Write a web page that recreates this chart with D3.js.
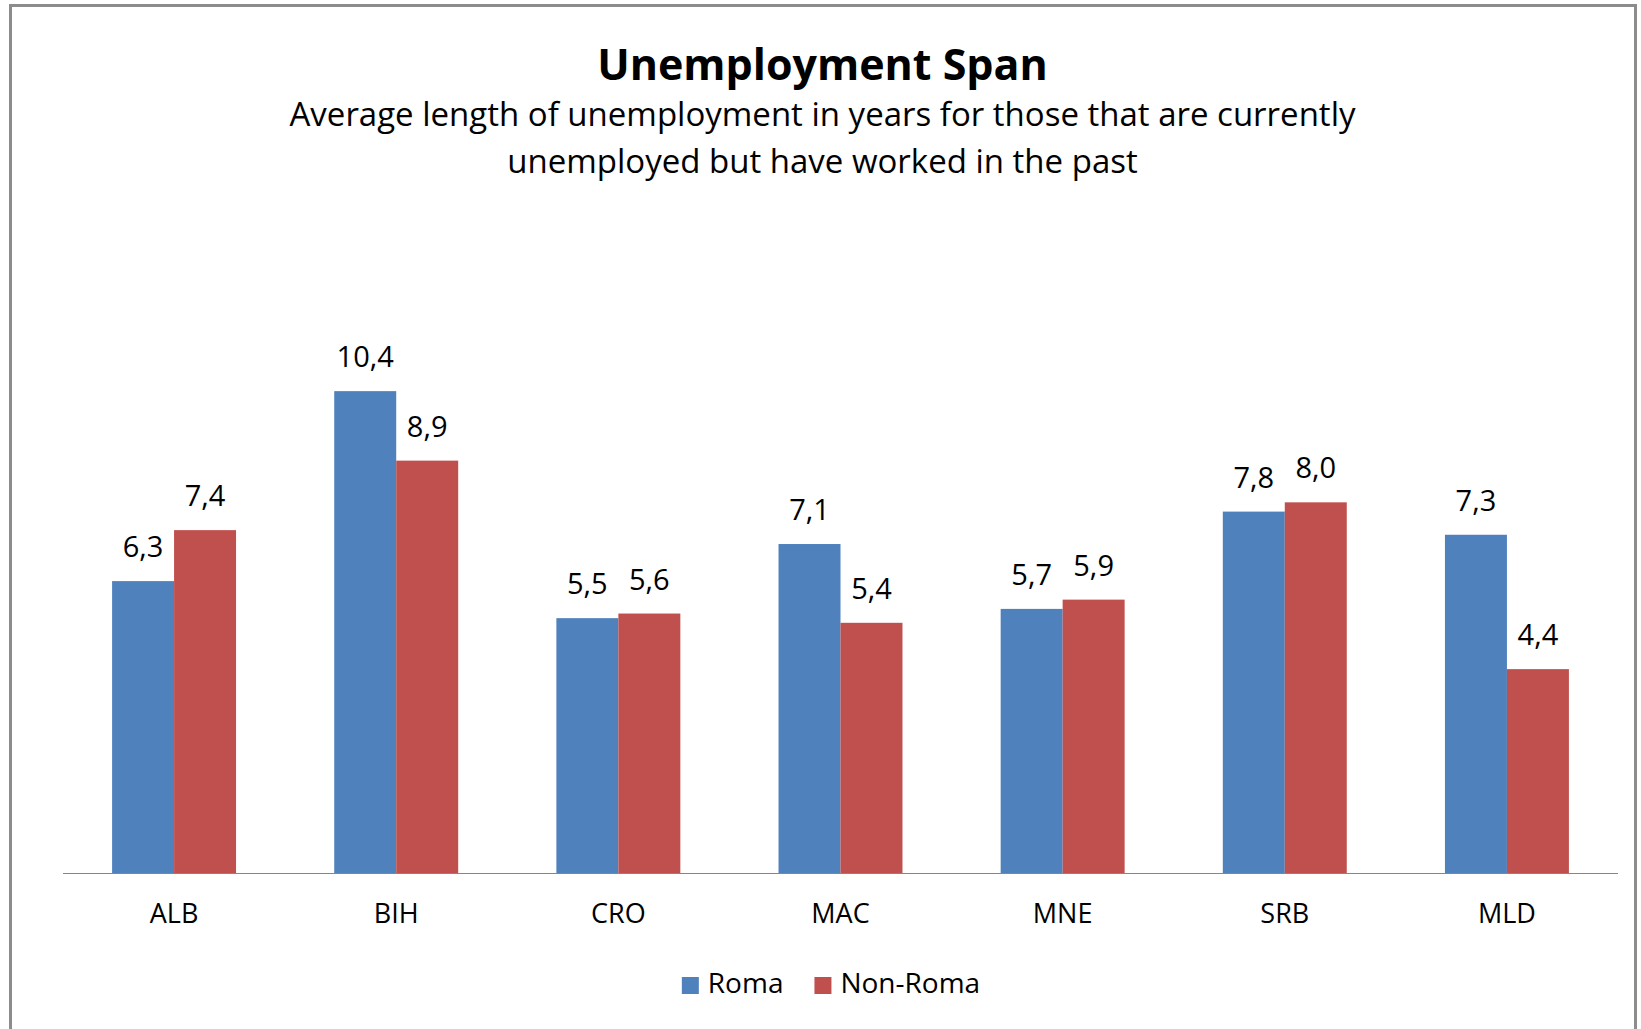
<!DOCTYPE html>
<html lang="en">

<head>
    <meta charset="UTF-8">
    <title>Unemployment Span</title>
    <style>
        html,
        body {
            background-color: white;
            margin: 0;
        }

        svg {
            display: block;
            background-color: white;
        }

        text {
            font-family: "Open Sans", "Noto Sans", sans-serif;
            fill: #000;
        }
    </style>
</head>

<body>
    <main></main>
    <script src="https://d3js.org/d3.v7.min.js"></script>
    <script>
        // - - - - - - - - - -
        // 0. Data
        // - - - - - - - - - -
        const countries = ['ALB', 'BIH', 'CRO', 'MAC', 'MNE', 'SRB', 'MLD'];
        const seriesNames = ['Roma', 'Non-Roma'];
        const roma = [6.3, 10.4, 5.5, 7.1, 5.7, 7.8, 7.3];
        const nonRoma = [7.4, 8.9, 5.6, 5.4, 5.9, 8.0, 4.4];
        const yDomain = [0, 12];
        const titleText = 'Unemployment Span';
        const subtitleLines = [
            'Average length of unemployment in years for those that are currently',
            'unemployed but have worked in the past'
        ];

        !(function () {
            'use strict';
            // - - - - - - - - - -
            // 1. Global declaration
            // - - - - - - - - - -
            let
                svg,
                x0, x1, y,
                canvas = {
                    width: 1641,
                    height: 1029
                },
                plot = {
                    left: 63,
                    right: 1618,
                    top: 317,
                    bottom: 873
                },
                colors = ['#4F81BD', '#C0504D'],
                comma = d3.formatLocale({
                    decimal: ',',
                    thousands: '.',
                    grouping: [3],
                    currency: ['', '']
                }).format('.1f');

            // - - - - - - - - - -
            // 2. Functions
            // - - - - - - - - - -

            /** Set the svg container and the frame
             * @returns {void}
             */
            function setSvg() {
                svg = d3.select('main')
                    .append('svg')
                    .attr('width', canvas.width)
                    .attr('height', canvas.height);

                // outer chart border (bottom edge runs off the picture)
                svg.append('rect')
                    .attr('x', 10.5)
                    .attr('y', 5.5)
                    .attr('width', 1625)
                    .attr('height', 1100)
                    .attr('fill', 'none')
                    .attr('stroke', '#8c8c8c')
                    .attr('stroke-width', 3);
            }

            /** Set the scales
             * @returns {void}
             */
            function setScales() {
                x0 = d3.scaleBand()
                    .domain(countries)
                    .range([plot.left, plot.right])
                    .paddingInner(0.442)
                    .paddingOuter(0.221);

                x1 = d3.scaleBand()
                    .domain(seriesNames)
                    .range([0, x0.bandwidth()]);

                y = d3.scaleLinear()
                    .domain(yDomain)
                    .range([plot.bottom, plot.top]);
            }

            /** Titles
             * @returns {void}
             */
            function drawTitles() {
                const cx = (plot.left + plot.right) / 2 - 18;

                svg.append('text')
                    .attr('x', cx)
                    .attr('y', 80)
                    .attr('text-anchor', 'middle')
                    .style('font-size', '43px')
                    .style('font-weight', 'bold')
                    .text(titleText);

                svg.selectAll('text.subtitle')
                    .data(subtitleLines)
                    .enter().append('text')
                    .attr('class', 'subtitle')
                    .attr('x', cx)
                    .attr('y', function (d, i) {
                        return 126 + i * 47;
                    })
                    .attr('text-anchor', 'middle')
                    .style('font-size', '33px')
                    .text(function (d) {
                        return d;
                    });
            }

            /** Bars, value labels and the category axis
             * @returns {void}
             */
            function drawBars() {
                const rows = countries.map(function (c, i) {
                    return {
                        country: c,
                        values: [roma[i], nonRoma[i]].map(function (v, j) {
                            return { key: seriesNames[j], value: v, color: colors[j] };
                        })
                    };
                });

                const group = svg.selectAll('g.group')
                    .data(rows)
                    .enter().append('g')
                    .attr('class', 'group')
                    .attr('transform', function (d) {
                        return 'translate(' + x0(d.country) + ',0)';
                    });

                group.selectAll('rect')
                    .data(function (d) { return d.values; })
                    .enter().append('rect')
                    .attr('x', function (d) { return x1(d.key); })
                    .attr('y', function (d) { return y(d.value); })
                    .attr('width', x1.bandwidth())
                    .attr('height', function (d) { return y(0) - y(d.value); })
                    .attr('fill', function (d) { return d.color; });

                group.selectAll('text.value')
                    .data(function (d) { return d.values; })
                    .enter().append('text')
                    .attr('class', 'value')
                    .attr('x', function (d) { return x1(d.key) + x1.bandwidth() / 2; })
                    .attr('y', function (d) { return y(d.value) - 24; })
                    .attr('text-anchor', 'middle')
                    .style('font-size', '29px')
                    .text(function (d) { return comma(d.value); });

                // category axis
                const axis = svg.append('g')
                    .attr('transform', 'translate(0,' + plot.bottom + ')')
                    .call(d3.axisBottom(x0).tickSize(0).tickPadding(0));

                axis.select('.domain')
                    .attr('stroke', '#868686')
                    .attr('d', 'M' + plot.left + ',0.5H' + plot.right);

                axis.selectAll('.tick text')
                    .attr('y', 50)
                    .attr('dy', null)
                    .attr('fill', '#000')
                    .style('font-family', '"Open Sans", sans-serif')
                    .style('font-size', '27px');
            }

            /** Legend at the bottom
             * @returns {void}
             */
            function drawLegend() {
                const legend = svg.append('g');
                let xPos = 0;

                seriesNames.forEach(function (name, i) {
                    const item = legend.append('g')
                        .attr('transform', 'translate(' + xPos + ',0)');
                    item.append('rect')
                        .attr('x', 0)
                        .attr('y', -16)
                        .attr('width', 17)
                        .attr('height', 17)
                        .attr('fill', colors[i]);
                    const t = item.append('text')
                        .attr('x', 26)
                        .attr('y', 0)
                        .style('font-size', '28px')
                        .text(name);
                    xPos += 26 + t.node().getComputedTextLength() + 31;
                });

                const w = xPos - 31;
                legend.attr('transform', 'translate(' + (831 - w / 2) + ',993)');
            }

            /** The main control
             * @returns {void}
             */
            function main() {
                setSvg();
                setScales();
                drawTitles();
                drawBars();
                drawLegend();
            }

            window.addEventListener('load', main);
        }());
    </script>
</body>

</html>
